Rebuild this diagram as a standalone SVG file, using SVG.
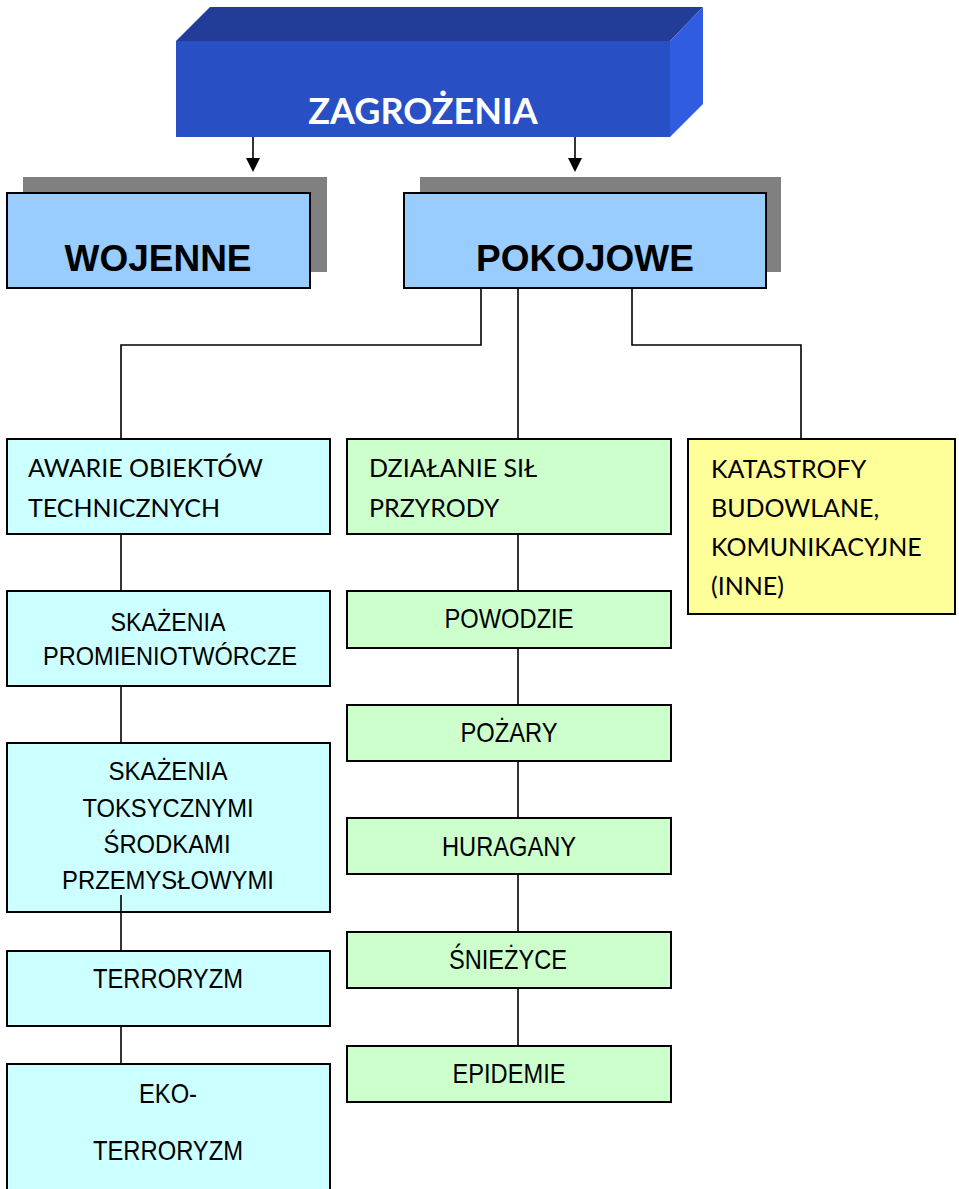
<svg xmlns="http://www.w3.org/2000/svg" width="959" height="1189" viewBox="0 0 959 1189">
<style>
.box{stroke:#000;stroke-width:2}
.cyan{fill:#CCFFFF}.green{fill:#CCFFCC}.yellow{fill:#FFFF99}.blue{fill:#99CCFF}
.shadow{fill:#808080}
.ar{font-family:"Liberation Sans",Arial,sans-serif;font-size:28px;fill:#000;text-anchor:middle}
.ar2{font-family:"Liberation Sans",Arial,sans-serif;font-size:26px;fill:#000;text-anchor:middle}
.cal{font-family:Lato,"Open Sans",sans-serif;font-size:25px;fill:#000}
.big{font-family:"Liberation Sans",Arial,sans-serif;font-size:37px;font-weight:bold;fill:#000;text-anchor:middle}
.conn{stroke:#000;stroke-width:1.6;fill:none}
</style>
<rect width="959" height="1189" fill="#fff"/>

<g id="connectors">
<line class="conn" x1="253" y1="137" x2="253" y2="158"/>
<path d="M246,158 L260,158 L253,172 z" fill="#000"/>
<line class="conn" x1="575" y1="137" x2="575" y2="158"/>
<path d="M568,158 L582,158 L575,172 z" fill="#000"/>
<polyline class="conn" points="481,288 481,345 121,345 121,439"/>
<line class="conn" x1="518" y1="288" x2="518" y2="439"/>
<polyline class="conn" points="632,288 632,345 801,345 801,439"/>
<line class="conn" x1="121" y1="534" x2="121" y2="591"/>
<line class="conn" x1="121" y1="686" x2="121" y2="743"/>
<line class="conn" x1="518" y1="534" x2="518" y2="591"/>
<line class="conn" x1="518" y1="648" x2="518" y2="705"/>
<line class="conn" x1="518" y1="761" x2="518" y2="818"/>
<line class="conn" x1="518" y1="874" x2="518" y2="932"/>
<line class="conn" x1="518" y1="988" x2="518" y2="1046"/>
<line class="conn" x1="121" y1="1026" x2="121" y2="1064"/>
</g>

<g id="zagrozenia">
<polygon points="176,41 210,7 703,7 670,41" fill="#223C98"/>
<polygon points="670,41 703,7 703,104 670,137" fill="#2F5CE0"/>
<rect x="176" y="41" width="494" height="96" fill="#294FC4"/>
<text x="423" y="124" font-family="Lato,'Open Sans',sans-serif" font-size="36" font-weight="bold" fill="#fff" text-anchor="middle">ZAGROŻENIA</text>
</g>

<g id="wojenne">
<rect class="shadow" x="23" y="177" width="304" height="95"/>
<rect class="box blue" x="7" y="193" width="303" height="95"/>
<text class="big" x="158" y="271">WOJENNE</text>
</g>

<g id="pokojowe">
<rect class="shadow" x="420" y="177" width="361" height="95"/>
<rect class="box blue" x="404" y="193" width="362" height="95"/>
<text class="big" x="585" y="271">POKOJOWE</text>
</g>

<g id="awarie">
<rect class="box cyan" x="7" y="439" width="323" height="95"/>
<text class="cal" x="28" y="477">AWARIE OBIEKTÓW</text>
<text class="cal" x="28" y="517">TECHNICZNYCH</text>
</g>

<g id="promieniotworcze">
<rect class="box cyan" x="7" y="591" width="323" height="95"/>
<text class="ar2" x="168" y="631" textLength="115" lengthAdjust="spacingAndGlyphs">SKAŻENIA</text>
<text class="ar2" x="170" y="665" textLength="254" lengthAdjust="spacingAndGlyphs">PROMIENIOTWÓRCZE</text>
</g>

<g id="toksyczne">
<rect class="box cyan" x="7" y="743" width="323" height="169"/>
<text class="ar2" x="168" y="780" textLength="119" lengthAdjust="spacingAndGlyphs">SKAŻENIA</text>
<text class="ar2" x="168" y="817" textLength="171" lengthAdjust="spacingAndGlyphs">TOKSYCZNYMI</text>
<text class="ar2" x="167" y="853" textLength="127" lengthAdjust="spacingAndGlyphs">ŚRODKAMI</text>
<text class="ar2" x="168" y="889" textLength="212" lengthAdjust="spacingAndGlyphs">PRZEMYSŁOWYMI</text>
</g>
<line class="conn" x1="121" y1="895" x2="121" y2="951"/>

<g id="terroryzm">
<rect class="box cyan" x="7" y="951" width="323" height="75"/>
<text class="ar" x="168" y="988" textLength="150" lengthAdjust="spacingAndGlyphs">TERRORYZM</text>
</g>

<g id="ekoterroryzm">
<rect class="box cyan" x="7" y="1064" width="323" height="140"/>
<text class="ar" x="168" y="1103" textLength="58" lengthAdjust="spacingAndGlyphs">EKO-</text>
<text class="ar" x="168" y="1160" textLength="150" lengthAdjust="spacingAndGlyphs">TERRORYZM</text>
</g>

<g id="sily-przyrody">
<rect class="box green" x="347" y="439" width="324" height="95"/>
<text class="cal" x="369" y="477">DZIAŁANIE SIŁ</text>
<text class="cal" x="369" y="517">PRZYRODY</text>
</g>

<g id="powodzie">
<rect class="box green" x="347" y="591" width="324" height="57"/>
<text class="ar" x="509" y="628" textLength="129" lengthAdjust="spacingAndGlyphs">POWODZIE</text>
</g>
<g id="pozary">
<rect class="box green" x="347" y="705" width="324" height="56"/>
<text class="ar" x="509" y="742" textLength="97" lengthAdjust="spacingAndGlyphs">POŻARY</text>
</g>
<g id="huragany">
<rect class="box green" x="347" y="818" width="324" height="56"/>
<text class="ar" x="509" y="856" textLength="134" lengthAdjust="spacingAndGlyphs">HURAGANY</text>
</g>
<g id="sniezyce">
<rect class="box green" x="347" y="932" width="324" height="56"/>
<text class="ar" x="508" y="969" textLength="118" lengthAdjust="spacingAndGlyphs">ŚNIEŻYCE</text>
</g>
<g id="epidemie">
<rect class="box green" x="347" y="1046" width="324" height="56"/>
<text class="ar" x="509" y="1083" textLength="113" lengthAdjust="spacingAndGlyphs">EPIDEMIE</text>
</g>

<g id="katastrofy">
<rect class="box yellow" x="688" y="439" width="267" height="175"/>
<text class="cal" x="711" y="478">KATASTROFY</text>
<text class="cal" x="711" y="517">BUDOWLANE,</text>
<text class="cal" x="711" y="556">KOMUNIKACYJNE</text>
<text class="cal" x="711" y="595">(INNE)</text>
</g>
</svg>
